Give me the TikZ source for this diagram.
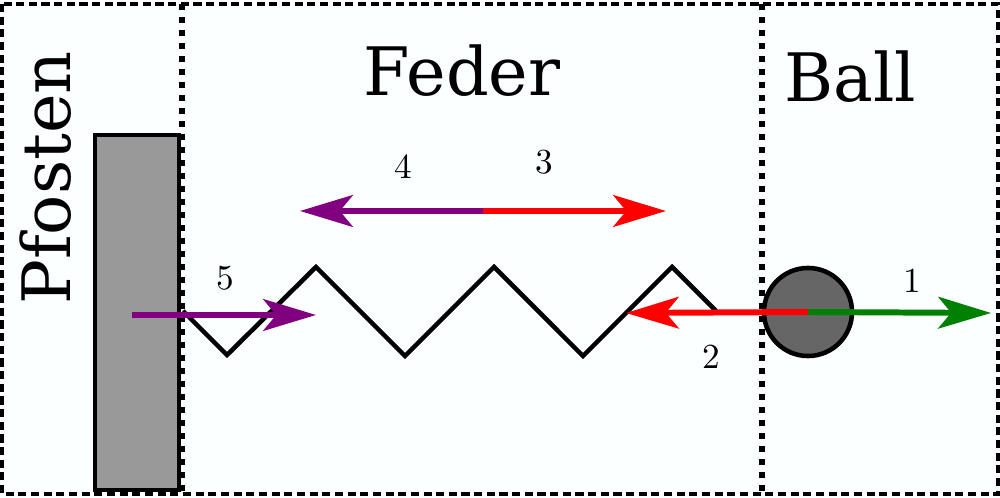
\documentclass[tikz,border=0pt]{standalone}
\usepackage{fontspec}
\newfontfamily\dvs{DejaVu Serif}
\usetikzlibrary{arrows.meta}
\definecolor{bgc}{RGB}{251,255,255}
\definecolor{postgray}{RGB}{153,153,153}
\definecolor{ballgray}{RGB}{102,102,102}
\definecolor{fpurple}{RGB}{128,0,128}
\definecolor{fred}{RGB}{255,0,0}
\definecolor{fgreen}{RGB}{0,128,0}
\tikzset{
  frame/.style={line width=1pt, dash pattern=on 2.3pt off 1.3pt},
  divider/.style={line width=1.6pt, dash pattern=on 1.6pt off 2.1pt},
  spring/.style={line width=1.3pt, line join=miter},
  force/.style={line width=1.7pt, -{Stealth[length=15pt,width=9pt,inset=3.7pt]}},
  title/.style={font=\fontsize{19}{19}\selectfont\dvs, inner sep=0pt, anchor=base},
  num/.style={font=\fontsize{10}{12}\selectfont, inner sep=0pt},
}
\begin{document}
\begin{tikzpicture}[x=0.01cm, y=-0.01cm]
\useasboundingbox (0,0) rectangle (1000,498);
\fill[bgc] (0,0) rectangle (1000,498);
% post
\node[draw, fill=postgray, line width=1.3pt, minimum width=0.84cm, minimum height=3.55cm, inner sep=0pt] (post) at (137,312.5) {};
% spring
\coordinate (s0) at (183,311);
\coordinate (s7) at (716,311);
\draw[spring] (s0) -- (227,355) -- (316,267) -- (405,356) -- (494,267) -- (583,356) -- (672,267) -- (s7);
% frame and dividers
\draw[frame] (2,4) rectangle (998,494);
\coordinate (d1t) at (182,4);
\coordinate (d1b) at (182,494);
\coordinate (d2t) at (762,4);
\coordinate (d2b) at (762,494);
\draw[divider] (d1t) -- (d1b);
\draw[divider] (d2t) -- (d2b);
% ball
\node[draw, fill=ballgray, circle, line width=1.3pt, minimum size=0.88cm, inner sep=0pt] (ball) at (808,312) {};
% titles
\node[title] (tf) at (462,96) {Feder};
\node[title] (tb) at (850,102) {Ball};
\node[title, rotate=90] (tp) at (70,178) {Pfosten};
% forces
\coordinate (f5s) at (132,315);
\coordinate (f5e) at (316,315);
\draw[force, fpurple] (f5s) -- (f5e);
\coordinate (fm) at (483,211);
\coordinate (f4e) at (300,211);
\coordinate (f3e) at (666,211);
\draw[force, fpurple] (fm) -- (f4e);
\draw[force, fred] (fm) -- (f3e);
\coordinate (f2e) at (626,313);
\coordinate (f1e) at (991,313);
\draw[force, fred] (ball.center) -- (f2e);
\draw[force, fgreen] (ball.center) -- (f1e);
% numbers
\node[num] (n1) at (912,281) {1};
\node[num] (n2) at (711,357) {2};
\node[num] (n3) at (544,162) {3};
\node[num] (n4) at (403,167) {4};
\node[num] (n5) at (225,278) {5};
\end{tikzpicture}
\end{document}
